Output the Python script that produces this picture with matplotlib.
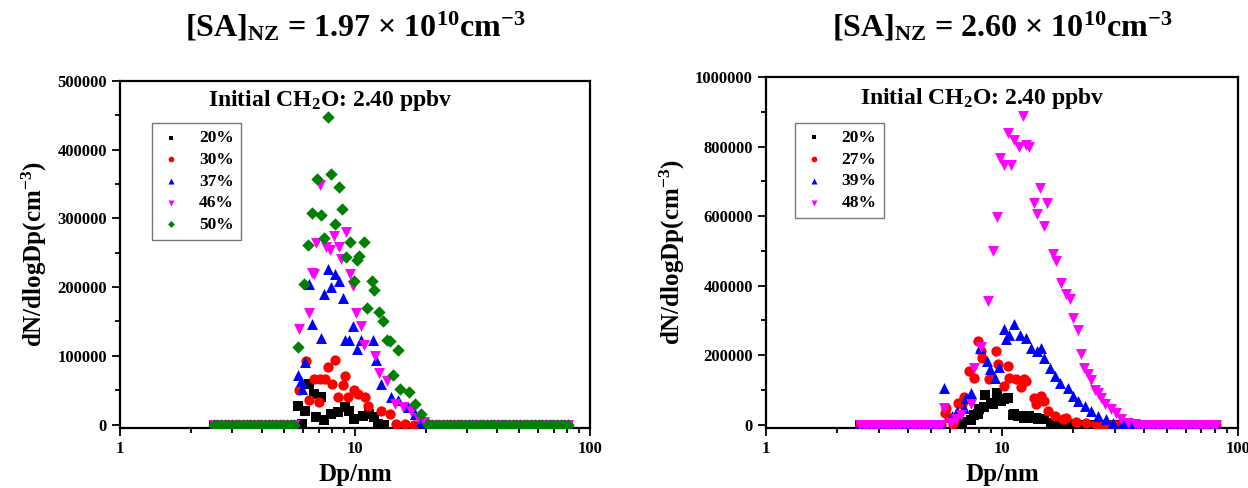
import matplotlib
matplotlib.use("Agg")
import matplotlib.pyplot as plt
import numpy as np

plt.rcParams["font.family"] = "Liberation Serif"
plt.rcParams["font.weight"] = "bold"
plt.rcParams["axes.labelweight"] = "bold"
plt.rcParams["mathtext.fontset"] = "custom"
plt.rcParams["mathtext.rm"] = "Liberation Serif:bold"
plt.rcParams["mathtext.it"] = "Liberation Serif:bold:italic"
plt.rcParams["mathtext.bf"] = "Liberation Serif:bold"
plt.rcParams["mathtext.default"] = "rm"

# SMPS bins where every run reads zero (below nucleation mode / above growth front)
low_dp = [2.50, 2.59, 2.69, 2.79, 2.89, 2.99, 3.10, 3.22, 3.33, 3.46, 3.58, 3.71,
          3.85, 3.99, 4.14, 4.29, 4.45, 4.61, 4.78, 4.95, 5.13, 5.32, 5.52]
high_dp = [20.5, 21.25, 22.03, 22.84, 23.68, 24.54, 25.44, 26.37, 27.34, 28.34, 29.38,
           30.46, 31.57, 32.73, 33.93, 35.17, 36.46, 37.80, 39.18, 40.62, 42.11, 43.65,
           45.25, 46.91, 48.63, 50.41, 52.26, 54.17, 56.16, 58.21, 60.35, 62.56, 64.85,
           67.22, 69.69, 72.24, 74.89, 77.63, 80.48]

# ---- left: [SA]NZ = 1.97e10 ----
dp_a20 = [5.69, 5.94, 6.11, 6.38, 6.66, 6.81, 7.16, 7.35, 7.89, 8.48, 9.06, 9.46, 9.93,
          10.79, 11.51, 12.08, 12.50, 13.30]
n_a20 = [27700, 1000, 20400, 58300, 44800, 10600, 39800, 6900, 15600, 17900, 26200, 20400,
         8300, 13100, 15600, 11700, 1000, 0]

dp_a30 = [5.78, 6.18, 6.38, 6.70, 7.04, 7.11, 7.44, 7.64, 7.95, 8.21, 8.44, 8.86, 9.06, 9.29,
          9.93, 10.27, 11.03, 11.33, 12.91, 14.02, 14.97, 16.25, 17.90]
n_a30 = [50600, 92300, 36000, 66600, 32500, 66600, 66600, 83500, 59300, 93300, 39800, 56900,
         70000, 40800, 49600, 44800, 39800, 27700, 20400, 15600, 1000, 1000, 0]

dp_a37 = [5.73, 5.88, 5.94, 6.11, 6.38, 6.59, 7.16, 7.39, 7.64, 7.89, 8.21, 8.57, 8.86, 9.06,
          9.46, 9.77, 10.20, 10.61, 11.90, 12.29, 12.91, 14.25, 15.21, 16.80, 17.92, 19.0, 20.0]
n_a37 = [71400, 63100, 52000, 90800, 204100, 146800, 126400, 189500, 227000, 200200, 219700,
         208900, 184700, 123500, 122500, 143300, 110400, 122500, 122500, 93300, 59300, 39800,
         35000, 25200, 15600, 5000, 1000]

dp_a46 = [5.75, 6.38, 6.59, 6.70, 6.85, 7.11, 7.50, 7.84, 8.16, 8.54, 8.71, 9.12, 9.49, 9.77,
          10.10, 10.61, 10.89, 12.17, 12.70, 13.70, 14.72, 15.99, 17.34, 18.6, 19.6]
n_a46 = [139500, 162300, 220200, 218700, 263500, 348500, 258500, 254700, 274100, 258500,
         241600, 280000, 218700, 201200, 162300, 142900, 115200, 99100, 74800, 63100, 30200,
         25200, 20400, 10000, 3000]

dp_a50 = [5.69, 6.07, 6.33, 6.59, 6.88, 7.16, 7.35, 7.64, 7.89, 8.21, 8.54, 8.80, 9.15, 9.49,
          9.87, 10.20, 10.43, 10.92, 11.25, 11.79, 12.08, 12.67, 13.13, 13.70, 14.15, 14.53,
          15.21, 15.52, 16.90, 17.92, 19.15, 20.46]
n_a50 = [112700, 205100, 261000, 308100, 357000, 304700, 271200, 447000, 364000, 292600,
         345100, 313000, 243900, 265400, 208900, 239100, 245000, 266400, 170100, 208900,
         195400, 163700, 150200, 122500, 121500, 71400, 107900, 52000, 47700, 29200, 15600, 1000]

# ---- right: [SA]NZ = 2.60e10 ----
dp_b20 = [6.40, 6.80, 7.38, 7.63, 7.88, 8.00, 8.41, 8.47, 8.98, 9.13, 9.52, 9.90, 10.23, 10.63,
          11.10, 11.28, 11.66, 12.05, 12.45, 13.06, 13.28, 13.95, 14.19, 15.13, 16.17, 17.83,
          19.5, 21.5]
n_b20 = [5000, 8000, 13500, 28700, 30800, 45100, 52600, 86200, 64100, 59500, 92800, 69000,
         73900, 76700, 28700, 30800, 25900, 25900, 21000, 25900, 19300, 21000, 16400, 16400,
         6600, 2000, 1000, 0]

dp_b27 = [5.72, 5.78, 5.97, 6.17, 6.27, 6.48, 6.74, 6.91, 7.26, 7.63, 7.88, 8.14, 8.20, 8.83,
          8.98, 9.43, 9.59, 10.23, 10.57, 10.74, 11.47, 12.05, 12.45, 12.65, 13.72, 13.95,
          14.65, 15.13, 15.64, 16.70, 18.13, 18.71, 20.6, 22.7, 25.1]
n_b27 = [35400, 49700, 21000, 2000, 16400, 64100, 59500, 80500, 155200, 135100, 241400,
         212700, 193400, 131300, 134200, 212700, 174500, 112100, 169600, 135900, 131300,
         109200, 131300, 126500, 78500, 59500, 83300, 69000, 40200, 25900, 16400, 21000,
         8600, 4300, 2000]

dp_b39 = [5.68, 6.11, 6.44, 6.91, 7.03, 7.38, 8.10, 8.60, 8.92, 9.38, 9.74, 10.23, 10.40,
          10.74, 11.28, 11.97, 12.65, 13.28, 14.09, 14.65, 15.13, 15.90, 16.70, 17.53, 19.04,
          19.99, 21.00, 22.40, 23.91, 25.53, 27.71, 29.58, 32.1]
n_b39 = [105500, 25900, 40000, 49700, 78500, 92800, 222200, 184000, 160100, 134200, 166700,
         275000, 248000, 258000, 290000, 258700, 250900, 220400, 212700, 222200, 193400,
         164700, 140800, 121600, 107200, 83300, 69000, 54600, 40200, 25900, 16400, 6600, 3000]

dp_b48 = [5.68, 6.05, 6.40, 6.70, 7.38, 7.63, 8.14, 8.69, 9.13, 9.52, 9.84, 10.23, 10.57,
          10.92, 11.28, 11.85, 12.25, 12.65, 13.06, 13.64, 14.10, 14.50, 15.13, 15.54, 16.43,
          16.98, 17.83, 18.71, 19.33, 19.99, 20.90, 21.60, 22.30, 23.15, 23.90, 24.70, 25.53,
          26.37, 27.43, 29.10, 30.55, 32.08, 34.26, 36.50]
n_b48 = [49700, 5700, 17000, 28700, 59500, 164700, 224200, 356400, 500000, 597800, 767400,
         748100, 840100, 748100, 818200, 799000, 886600, 805600, 799000, 638000, 607300,
         680300, 571900, 638900, 490600, 471300, 409000, 377400, 361300, 306100, 272200,
         203200, 164700, 145700, 129300, 100600, 92000, 78500, 61200, 46000, 33000, 16400,
         6600, 3000]

labels_a = ["20%", "30%", "37%", "46%", "50%"]
labels_b = ["20%", "27%", "39%", "48%"]
yticks_a = [0, 100000, 200000, 300000, 400000, 500000]
yticks_b = [0, 200000, 400000, 600000, 800000, 1000000]

colors = ["black", "#ff0000", "#0000ff", "#ff00ff", "#008000"]
markers = ["s", "o", "^", "v", "D"]
sizes = [42, 55, 62, 62, 40]


def with_zeros(dp, n):
    # pad the measured mode with the zero-count bins on both sides
    dp = list(dp)
    n = list(n)
    lo = [d for d in low_dp if d < min(dp)]
    hi = [d for d in high_dp if d > max(dp)]
    return np.array(lo + dp + hi), np.array([0] * len(lo) + n + [0] * len(hi))


fig = plt.figure(figsize=(12.48, 4.88), dpi=100)
ax1 = fig.add_axes([0.0962, 0.123, 0.3766, 0.711])
ax2 = fig.add_axes([0.6138, 0.123, 0.3782, 0.7193])

panels = [
    (ax1, [(dp_a20, n_a20), (dp_a30, n_a30), (dp_a37, n_a37), (dp_a46, n_a46), (dp_a50, n_a50)],
     labels_a, yticks_a, (-5000, 500000), 50000, (0.068, 0.879), (0.187, 0.945),
     r"[SA]$_{NZ}$ = 1.97 × 10$^{10}$cm$^{-3}$"),
    (ax2, [(dp_b20, n_b20), (dp_b27, n_b27), (dp_b39, n_b39), (dp_b48, n_b48)],
     labels_b, yticks_b, (-9000, 1000000), 100000, (0.061, 0.869), (0.199, 0.94),
     r"[SA]$_{NZ}$ = 2.60 × 10$^{10}$cm$^{-3}$"),
]

for ax, series, labels, yticks, ylim, yminor, leg_xy, txt_xy, title in panels:
    for i, (dp, n) in enumerate(series):
        x, y = with_zeros(dp, n)
        ax.scatter(x, y, s=sizes[i], marker=markers[i], color=colors[i],
                   linewidths=0, label=labels[i], zorder=3 + i)

    ax.set_xscale("log")
    ax.set_xlim(1, 100)
    ax.set_ylim(*ylim)
    ax.set_xticks([1, 10, 100])
    ax.set_xticklabels(["1", "10", "100"])
    ax.set_yticks(yticks)
    ax.set_yticklabels([str(t) for t in yticks])
    ax.set_yticks(np.arange(yminor, yticks[-1], 2 * yminor), minor=True)
    ax.tick_params(which="both", direction="out", top=False, right=False,
                   labelsize=12, width=1.3)
    ax.tick_params(which="major", length=6)
    ax.tick_params(which="minor", length=3.5)
    for sp in ax.spines.values():
        sp.set_linewidth(1.6)

    ax.set_xlabel("Dp/nm", fontsize=18, fontweight="bold", labelpad=4)
    ax.set_ylabel(r"dN/dlogDp(cm$^{-3}$)", fontsize=18, fontweight="bold", labelpad=6)

    ax.text(txt_xy[0], txt_xy[1], r"Initial CH$_2$O: 2.40 ppbv", transform=ax.transAxes,
            fontsize=17, ha="left", va="center")

    leg = ax.legend(loc="upper left", bbox_to_anchor=leg_xy, borderaxespad=0,
                    fontsize=12.5, markerscale=0.55, frameon=True, fancybox=False,
                    labelspacing=0.32, handletextpad=0.9, borderpad=0.4,
                    handlelength=1.4, scatterpoints=1)
    leg.get_frame().set_edgecolor("#555555")
    leg.get_frame().set_linewidth(1.0)

    pos = ax.get_position()
    fig.text((pos.x0 + pos.x1) / 2, 1 - 27 / 488, title, fontsize=23,
             ha="center", va="center")

fig.savefig("out.png", dpi=100)
